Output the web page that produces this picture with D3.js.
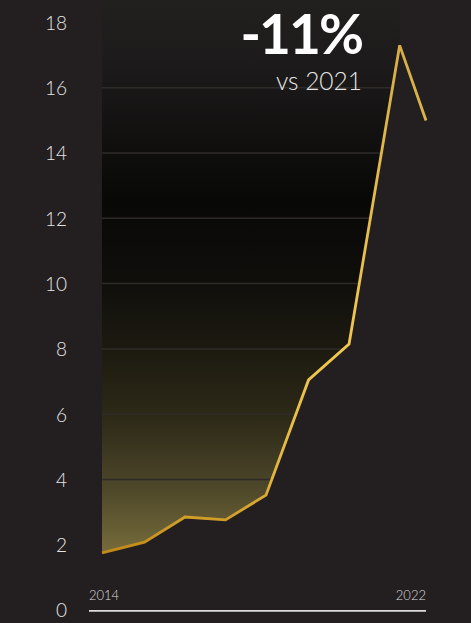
<!DOCTYPE html>
<html>
<head>
<meta charset="utf-8">
<script src="https://cdn.jsdelivr.net/npm/d3@7"></script>
<style>
  html, body { margin: 0; padding: 0; background: #231f20; }
  svg { display: block; }
</style>
</head>
<body>
<svg id="chart" width="471" height="623"></svg>
<script>
// ---- data ----
const years = [2014, 2015.05, 2016.05, 2017.05, 2018.05, 2019.1, 2020.1, 2021.35, 2022];
const values = [1.75, 2.08, 2.85, 2.76, 3.52, 7.05, 8.15, 17.3, 15.0];
const yTicks = [0, 2, 4, 6, 8, 10, 12, 14, 16, 18];
const gridTicks = [4, 6, 8, 10, 12, 14, 16];
const xTickLabels = ["2014", "2022"];
const headline = "-11%";
const subline = "vs 2021";

const W = 471, H = 623;
const svg = d3.select("#chart");
const bg = "#231f20";

const x = d3.scaleLinear().domain([2014, 2022]).range([102, 426]);
const y = d3.scaleLinear().domain([0, 18]).range([610, 22.5]);

const pts = years.map((yr, i) => ({ yr, v: values[i] }));
const fillPts = pts.filter(p => p.yr <= 2021.5);

const defs = svg.append("defs");
const fillGrad = defs.append("linearGradient")
  .attr("id", "fillGrad").attr("gradientUnits", "userSpaceOnUse")
  .attr("x1", 0).attr("y1", 0).attr("x2", 0).attr("y2", 560);
[[0, "#221f1f"], [0.12, "#1c1a1a"], [0.36, "#080807"], [0.5, "#0f0e0b"], [0.62, "#1c1a10"], [0.75, "#2e2a18"], [0.86, "#4a4428"], [1, "#7a6f3c"]]
  .forEach(([o, c]) => fillGrad.append("stop").attr("offset", o).attr("stop-color", c));

const lineGrad = defs.append("linearGradient")
  .attr("id", "lineGrad").attr("gradientUnits", "userSpaceOnUse")
  .attr("x1", 0).attr("y1", y(17.3)).attr("x2", 0).attr("y2", y(1.75));
[[0, "#d6ad48"], [0.6, "#f0c850"], [0.85, "#e2b63e"], [1, "#c28a18"]]
  .forEach(([o, c]) => lineGrad.append("stop").attr("offset", o).attr("stop-color", c));

const area = d3.area()
  .x(d => x(d.yr))
  .y0(0)
  .y1(d => y(d.v));

defs.append("clipPath").attr("id", "areaClip")
  .append("path").attr("d", area(fillPts));

svg.append("rect").attr("width", W).attr("height", H).attr("fill", bg);

svg.append("path")
  .attr("d", area(fillPts))
  .attr("fill", "url(#fillGrad)");

svg.append("g").attr("clip-path", "url(#areaClip)")
  .selectAll("line").data(gridTicks).join("line")
  .attr("x1", x(2014)).attr("x2", x(2022))
  .attr("y1", d => y(d)).attr("y2", d => y(d))
  .attr("stroke", "#2e2b29").attr("stroke-width", 1.5);

// y axis labels
const yAxis = d3.axisLeft(y).tickValues(yTicks).tickSize(0).tickPadding(0).tickFormat(d3.format("d"));
const yg = svg.append("g").attr("transform", "translate(67,0)").call(yAxis);
yg.select(".domain").remove();
yg.selectAll("text")
  .attr("fill", "#e6e6e6")
  .attr("font-family", "Lato, 'Open Sans', sans-serif")
  .attr("font-weight", 300)
  .attr("font-size", 19)
  .attr("dy", "0.36em");

// x axis line
svg.append("line")
  .attr("x1", 89).attr("x2", x(2022))
  .attr("y1", y(0) + 0.8).attr("y2", y(0) + 0.8)
  .attr("stroke", "#dcdcdc").attr("stroke-width", 1.8);

svg.append("text").text(xTickLabels[0])
  .attr("x", 89).attr("y", 600)
  .attr("fill", "#dcdcdc").attr("font-family", "Lato, sans-serif")
  .attr("font-weight", 300).attr("font-size", 13);
svg.append("text").text(xTickLabels[1])
  .attr("x", x(2022)).attr("y", 600).attr("text-anchor", "end")
  .attr("fill", "#dcdcdc").attr("font-family", "Lato, sans-serif")
  .attr("font-weight", 300).attr("font-size", 13);

// line
svg.append("path")
  .attr("d", d3.line().x(d => x(d.yr)).y(d => y(d.v))(pts))
  .attr("fill", "none")
  .attr("stroke", "url(#lineGrad)")
  .attr("stroke-width", 2.8)
  .attr("stroke-linejoin", "miter");

// headline
svg.append("text").text(headline)
  .attr("x", 362).attr("y", 54).attr("text-anchor", "end")
  .attr("fill", "#ffffff").attr("font-family", "Lato, sans-serif")
  .attr("font-weight", 700).attr("font-size", 55)
  .attr("letter-spacing", -2);
svg.append("text").text(subline)
  .attr("x", 362).attr("y", 90).attr("text-anchor", "end")
  .attr("fill", "#e6e6e6").attr("font-family", "Lato, sans-serif")
  .attr("font-weight", 300).attr("font-size", 24.5);
</script>
</body>
</html>
